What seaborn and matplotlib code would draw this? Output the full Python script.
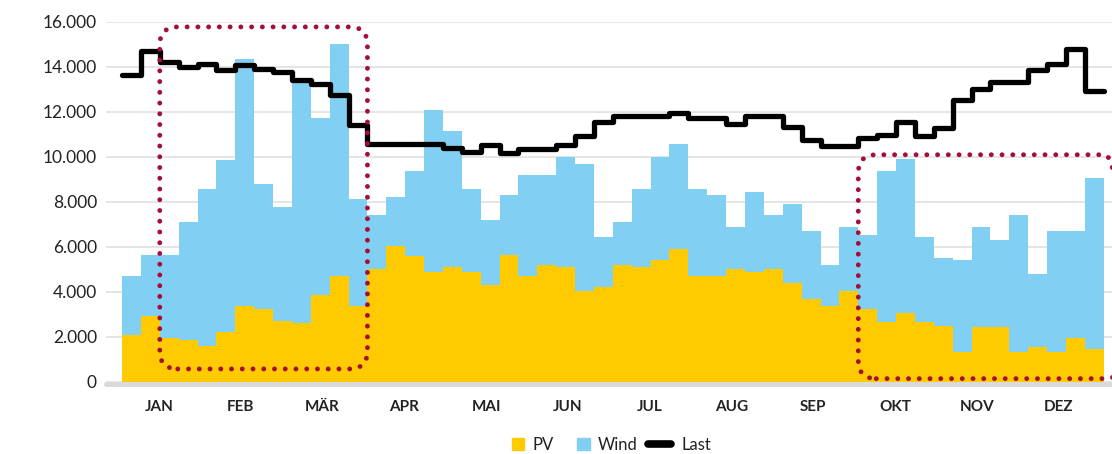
import numpy as np
import pandas as pd
import matplotlib
matplotlib.use("Agg")
import matplotlib.pyplot as plt
import seaborn as sns
from matplotlib.patches import FancyBboxPatch, Patch
from matplotlib.lines import Line2D
from matplotlib.transforms import IdentityTransform
from matplotlib.legend_handler import HandlerBase

# ---------------- data (weekly values) ----------------
months = ["JAN", "FEB", "MÄR", "APR", "MAI", "JUN", "JUL", "AUG", "SEP", "OKT", "NOV", "DEZ"]

pv = [2070, 2930, 1960, 1860, 1620, 2230, 3380, 3230, 2700, 2610, 3850, 4720, 3380,
      5000, 6050, 5580, 4910, 5090, 4910, 4290, 5660, 4730, 5220, 5090, 4030, 4200,
      5220, 5090, 5440, 5930, 4730, 4730, 5000, 4910, 5000, 4420, 3670, 3380, 4030,
      3230, 2670, 3050, 2670, 2490, 1340, 2430, 2430, 1340, 1550, 1340, 1960, 1460]

wind = [2620, 2730, 3700, 5230, 6960, 7640, 10990, 5590, 5090, 10720, 7880, 10290, 4760,
        2430, 2180, 3800, 7170, 6060, 3670, 2920, 2660, 4470, 3980, 4910, 5660, 2260,
        1870, 3490, 4560, 4630, 3850, 3590, 1900, 3540, 2430, 3500, 3030, 1840, 2870,
        3320, 6710, 6860, 3790, 3040, 4060, 4470, 3870, 6090, 3230, 5360, 4740, 7610]

last = [13660, 14730, 14220, 14000, 14140, 13880, 14100, 13890, 13760, 13440, 13260, 12740, 11420,
        10560, 10560, 10560, 10560, 10410, 10240, 10530, 10190, 10340, 10340, 10530, 10930, 11560,
        11810, 11810, 11810, 11960, 11740, 11740, 11470, 11810, 11810, 11330, 10740, 10490, 10490,
        10830, 10970, 11560, 10930, 11300, 12550, 13040, 13320, 13320, 13880, 14130, 14790, 12950]

yticks = [0, 2000, 4000, 6000, 8000, 10000, 12000, 14000, 16000]

# highlight boxes: (week start, week end, value low, value high)
box_winter1 = (2, 13, 580, 15780)
box_winter2 = (39, 53.0, 150, 10100)

PV_COLOR = "#FFCB00"
WIND_COLOR = "#82CFF4"
RED = "#A50D3B"
TEXT = "#222222"

# ---------------- figure ----------------
sns.set_theme(style="white")
plt.rcParams["font.family"] = ["Lato", "DejaVu Sans"]

fig = plt.figure(figsize=(11.12, 4.54), dpi=100)
ax = fig.add_axes([0.0953, 0.1586, 0.9047, 0.7930])

pv_a = np.array(pv, dtype=float)
wind_a = np.array(wind, dtype=float)
last_a = np.array(last, dtype=float)
n = len(pv_a)
edges = np.arange(n + 1)

ax.stairs(pv_a, edges, baseline=0, fill=True, color=PV_COLOR, lw=0, zorder=2)
ax.stairs(pv_a + wind_a, edges, baseline=pv_a, fill=True, color=WIND_COLOR, lw=0, zorder=2)

df_last = pd.DataFrame({"x": edges, "y": np.append(last_a, last_a[-1])})
sns.lineplot(data=df_last, x="x", y="y", drawstyle="steps-post", color="black",
             lw=3.8, ax=ax, zorder=4, legend=False)

ax.set_xlim(-0.85, 52.44)
ax.set_ylim(0, 16000)

# grid / axes styling
ax.set_yticks(yticks)
ax.set_yticklabels([f"{v:,}".replace(",", ".") for v in yticks])
ax.yaxis.grid(True, color="#dedede", lw=1.1)
ax.xaxis.grid(False)
ax.set_axisbelow(True)
for s in ax.spines.values():
    s.set_visible(False)
ax.axhline(-111, color="#dadada", lw=3.6, clip_on=False, zorder=1)

month_pos = (np.arange(len(months)) + 0.45) * n / len(months)
ax.set_xticks(month_pos)
ax.set_xticklabels(months)
ax.tick_params(axis="y", length=0, pad=6.5, labelsize=12.5, labelcolor=TEXT)
ax.tick_params(axis="x", length=0, pad=13, labelsize=11, labelcolor=TEXT)
for t in ax.get_xticklabels():
    t.set_fontweight("bold")
ax.set_xlabel("")
ax.set_ylabel("")


# highlight boxes (rounded dotted rectangles)
def draw_box(b):
    x0, x1, y0, y1 = b
    px0, py0 = ax.transData.transform((x0, y0))
    px1, py1 = ax.transData.transform((x1, y1))
    box = FancyBboxPatch((px0, py0), px1 - px0, py1 - py0,
                         boxstyle="round,pad=0,rounding_size=18",
                         transform=IdentityTransform(), fill=False,
                         edgecolor=RED, lw=3.5, linestyle=(0, (0.01, 2.2)),
                         capstyle="round", zorder=6)
    fig.add_artist(box)


draw_box(box_winter1)
draw_box(box_winter2)


# legend
class LongLineHandler(HandlerBase):
    def create_artists(self, legend, orig_handle, xdescent, ydescent, width, height,
                       fontsize, trans):
        y = height / 2 - ydescent
        ln = Line2D([-xdescent - 9, width - xdescent - 2], [y, y], color="black",
                    lw=5.5, solid_capstyle="round", transform=trans)
        return [ln]


handles = [Patch(color=PV_COLOR, label="PV"),
           Patch(color=WIND_COLOR, label="Wind"),
           Line2D([], [], color="black", lw=5.5, label="Last")]
leg = fig.legend(handles=handles, loc="center", bbox_to_anchor=(0.55, 0.02), ncol=3,
                 frameon=False, fontsize=12, handlelength=0.75, handleheight=0.75,
                 handletextpad=0.5, columnspacing=1.4,
                 handler_map={Line2D: LongLineHandler()})
for t in leg.get_texts():
    t.set_color(TEXT)

fig.savefig("out.png", dpi=100)
